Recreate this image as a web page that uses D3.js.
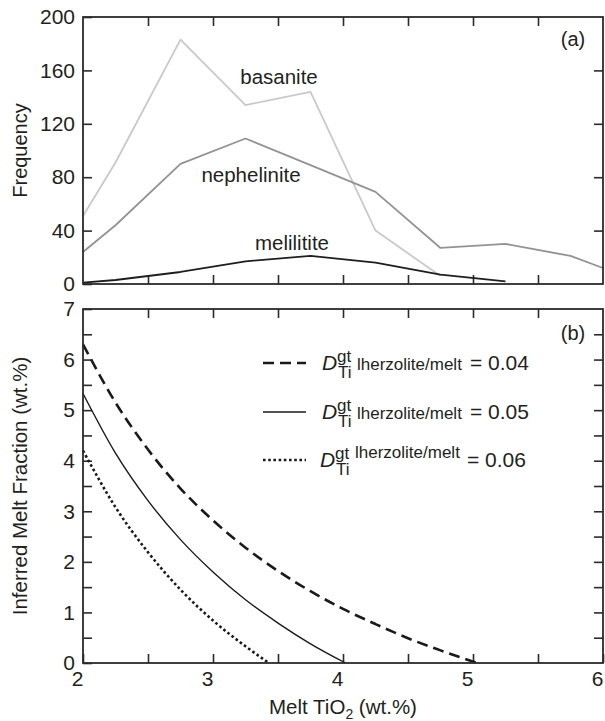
<!DOCTYPE html>
<html>
<head>
<meta charset="utf-8">
<script src="https://d3js.org/d3.v7.min.js"></script>
<style>
  body { margin: 0; background: #fff; }
  svg { display: block; }
  text { font-family: "Liberation Sans", Arial, Helvetica, sans-serif; fill: #231f20; }
</style>
</head>
<body>
<div id="chart"></div>
<script>
// panel (a): frequency histogram lines
var binX = [2.0, 2.25, 2.75, 3.25, 3.75, 4.25, 4.75, 5.25, 5.75, 6.0];
var basanite = [51, 91, 183, 134, 144, 40, 6];
var nephelinite = [24, 44, 90, 109, 89, 69, 27, 30, 21, 12];
var melilitite = [1, 3, 9, 17, 21, 16, 7, 2];

// panel (b): inferred melt fraction curves
var tiD04 = [2.0, 2.25, 2.5, 2.75, 3.0, 3.25, 3.5, 3.75, 4.0, 4.25, 4.5, 4.75, 5.03];
var fD04 = [6.3, 5.15, 4.22, 3.45, 2.82, 2.28, 1.82, 1.42, 1.07, 0.77, 0.49, 0.25, 0];
var tiD05 = [2.0, 2.25, 2.5, 2.75, 3.0, 3.25, 3.5, 3.75, 4.02];
var fD05 = [5.33, 4.15, 3.21, 2.44, 1.8, 1.25, 0.79, 0.38, 0];
var tiD06 = [2.0, 2.25, 2.5, 2.75, 3.0, 3.25, 3.43];
var fD06 = [4.2, 3.08, 2.19, 1.45, 0.84, 0.33, 0];

var topTicks = [0, 40, 80, 120, 160, 200];
var xLabels = [2, 3, 4, 5, 6];
var legendVals = ["0.04", "0.05", "0.06"];

var width = 605, height = 721;
var frameColor = "#2b2b2b";
var intFmt = function(d) { return Number.isInteger(d) ? d3.format("d")(d) : ""; };

var svg = d3.select("#chart").append("svg")
  .attr("width", width)
  .attr("height", height);

var x = d3.scaleLinear().domain([2, 6]).range([83, 603]);
var yA = d3.scaleLinear().domain([0, 200]).range([284, 17]);
var yB = d3.scaleLinear().domain([0, 7]).range([663, 309]);

var halfX = d3.range(2, 6.01, 0.5);
var halfY = d3.range(0, 7.01, 0.5);

function styleAxis(g) {
  g.select(".domain").remove();
  g.selectAll(".tick line").attr("stroke", frameColor).attr("stroke-width", 1.6);
  g.selectAll(".tick text").style("font-size", "21px").attr("fill", "#231f20");
}

// ---------- panel (a) ----------
svg.append("g")
  .attr("transform", "translate(" + x(2) + ",0)")
  .call(d3.axisLeft(yA).tickValues(topTicks).tickSize(-9).tickPadding(8).tickFormat(intFmt))
  .call(styleAxis);
svg.append("g")
  .attr("transform", "translate(" + x(6) + ",0)")
  .call(d3.axisRight(yA).tickValues(topTicks.slice(1, -1)).tickSize(-9).tickFormat(""))
  .call(styleAxis);
svg.append("g")
  .attr("transform", "translate(0," + yA(200) + ")")
  .call(d3.axisTop(x).tickValues(halfX.slice(1, -1)).tickSize(-9).tickFormat(""))
  .call(styleAxis);
svg.append("g")
  .attr("transform", "translate(0," + yA(0) + ")")
  .call(d3.axisBottom(x).tickValues(halfX.slice(1, -1)).tickSize(-9).tickFormat(""))
  .call(styleAxis);

var lineA = d3.line()
  .x(function(d) { return x(d[0]); })
  .y(function(d) { return yA(d[1]); });

var seriesA = [
  {name: "basanite", vals: basanite, color: "#c9c9c9", lx: 279, ly: 84},
  {name: "nephelinite", vals: nephelinite, color: "#939393", lx: 251, ly: 182},
  {name: "melilitite", vals: melilitite, color: "#1e1e1e", lx: 292, ly: 250}
];

svg.append("g").selectAll("path")
  .data(seriesA)
  .enter()
  .append("path")
  .attr("fill", "none")
  .attr("stroke", function(d) { return d.color; })
  .attr("stroke-width", 1.8)
  .attr("stroke-linejoin", "round")
  .attr("d", function(d) { return lineA(d.vals.map(function(v, i) { return [binX[i], v]; })); });

svg.append("g").selectAll("text")
  .data(seriesA)
  .enter()
  .append("text")
  .attr("x", function(d) { return d.lx; })
  .attr("y", function(d) { return d.ly; })
  .attr("text-anchor", "middle")
  .style("font-size", "20.5px")
  .text(function(d) { return d.name; });

svg.append("rect")
  .attr("x", x(2)).attr("y", yA(200))
  .attr("width", x(6) - x(2)).attr("height", yA(0) - yA(200))
  .attr("fill", "none").attr("stroke", frameColor).attr("stroke-width", 1.8);

svg.append("text")
  .attr("x", 573).attr("y", 46)
  .attr("text-anchor", "middle")
  .style("font-size", "20px")
  .text("(a)");

svg.append("text")
  .attr("transform", "translate(27," + yA(100) + ") rotate(-90)")
  .attr("text-anchor", "middle")
  .style("font-size", "20px")
  .text("Frequency");

// ---------- panel (b) ----------
svg.append("g")
  .attr("transform", "translate(" + x(2) + ",0)")
  .call(d3.axisLeft(yB).tickValues(halfY).tickSize(-9).tickPadding(8).tickFormat(intFmt))
  .call(styleAxis);
svg.append("g")
  .attr("transform", "translate(" + x(6) + ",0)")
  .call(d3.axisRight(yB).tickValues(halfY.slice(1, -1)).tickSize(-9).tickFormat(""))
  .call(styleAxis);
svg.append("g")
  .attr("transform", "translate(0," + yB(7) + ")")
  .call(d3.axisTop(x).tickValues(halfX.slice(1, -1)).tickSize(-9).tickFormat(""))
  .call(styleAxis);
var xl = svg.append("g")
  .attr("transform", "translate(0," + yB(0) + ")")
  .call(d3.axisBottom(x).tickValues(halfX).tickSize(-9).tickPadding(8).tickFormat(intFmt))
  .call(styleAxis);
xl.selectAll(".tick text").attr("dx", -6);

var lineB = d3.line()
  .x(function(d) { return x(d[0]); })
  .y(function(d) { return yB(d[1]); })
  .curve(d3.curveMonotoneX);

var seriesB = [
  {xs: tiD04, ys: fD04, dash: "11,6", w: 2.6},
  {xs: tiD05, ys: fD05, dash: null, w: 1.4},
  {xs: tiD06, ys: fD06, dash: "2.6,2.6", w: 2.6}
];

svg.append("g").selectAll("path")
  .data(seriesB)
  .enter()
  .append("path")
  .attr("fill", "none")
  .attr("stroke", "#1a1a1a")
  .attr("stroke-width", function(d) { return d.w; })
  .attr("stroke-dasharray", function(d) { return d.dash; })
  .attr("d", function(d) { return lineB(d.xs.map(function(v, i) { return [v, d.ys[i]]; })); });

// legend
var legY = [363, 412, 460];
var leg = svg.append("g").selectAll("g")
  .data(seriesB)
  .enter()
  .append("g");

leg.append("line")
  .attr("x1", 263).attr("x2", 306)
  .attr("y1", function(d, i) { return legY[i]; })
  .attr("y2", function(d, i) { return legY[i]; })
  .attr("stroke", "#1a1a1a")
  .attr("stroke-width", function(d) { return d.w; })
  .attr("stroke-dasharray", function(d) { return d.dash; });

leg.each(function(d, i) {
  var g = d3.select(this);
  var base = legY[i] + 7;
  var dx = i == 2 ? -2 : 0;
  g.append("text").attr("x", 322 + dx).attr("y", base)
    .style("font-size", "21px").style("font-style", "italic").text("D");
  g.append("text").attr("x", 337 + dx).attr("y", base - 8)
    .style("font-size", "17px").text("gt");
  g.append("text").attr("x", 338 + dx).attr("y", base + 8)
    .style("font-size", "17px").text("Ti");
  g.append("text").attr("x", 357 + dx).attr("y", i == 2 ? base - 9 : base)
    .style("font-size", "17px").text("lherzolite/melt");
  g.append("text").attr("x", (i == 2 ? 467 : 470)).attr("y", base)
    .style("font-size", "21px").text("= " + legendVals[i]);
});

svg.append("rect")
  .attr("x", x(2)).attr("y", yB(7))
  .attr("width", x(6) - x(2)).attr("height", yB(0) - yB(7))
  .attr("fill", "none").attr("stroke", frameColor).attr("stroke-width", 1.8);

svg.append("text")
  .attr("x", 573).attr("y", 340)
  .attr("text-anchor", "middle")
  .style("font-size", "20px")
  .text("(b)");

svg.append("text")
  .attr("transform", "translate(27," + yB(3.5) + ") rotate(-90)")
  .attr("text-anchor", "middle")
  .style("font-size", "20.5px")
  .text("Inferred Melt Fraction (wt.%)");

var xt = svg.append("text")
  .attr("x", 343).attr("y", 714)
  .attr("text-anchor", "middle")
  .style("font-size", "20.5px");
xt.append("tspan").text("Melt TiO");
xt.append("tspan").attr("dy", 5).style("font-size", "14px").text("2");
xt.append("tspan").attr("dy", -5).text(" (wt.%)");
</script>
</body>
</html>
